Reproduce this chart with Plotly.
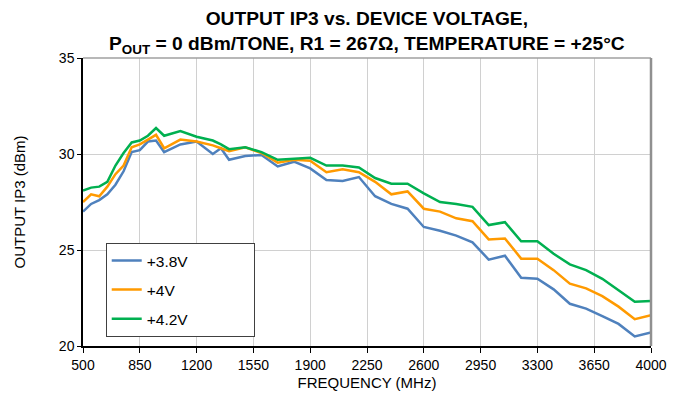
import plotly.graph_objects as go

freq = [500, 550, 600, 650, 700, 750, 800, 850, 900, 950, 1000,
        1100, 1200, 1300, 1350, 1400, 1500, 1600, 1700, 1800, 1900, 2000,
        2100, 2200, 2300, 2400, 2500, 2600, 2700, 2800, 2900, 3000,
        3100, 3200, 3300, 3400, 3500, 3600, 3700, 3800, 3900, 4000]

ip3_38v = [27.0, 27.4, 27.6, 27.9, 28.4, 29.1, 30.1, 30.2, 30.65, 30.7, 30.1,
           30.5, 30.65, 30.0, 30.3, 29.7, 29.9, 29.95, 29.35, 29.6, 29.25, 28.65,
           28.6, 28.8, 27.8, 27.4, 27.15, 26.2, 26.0, 25.75, 25.4, 24.5,
           24.7, 23.55, 23.5, 22.95, 22.2, 21.95, 21.55, 21.15, 20.5, 20.7]

ip3_4v = [27.5, 27.9, 27.8, 28.3, 28.95, 29.4, 30.35, 30.5, 30.75, 31.0, 30.3,
          30.75, 30.65, 30.45, 30.3, 30.15, 30.35, 30.05, 29.55, 29.7, 29.65, 29.05,
          29.2, 29.05, 28.55, 27.9, 28.05, 27.15, 27.0, 26.65, 26.5, 25.55,
          25.6, 24.55, 24.55, 23.95, 23.25, 23.0, 22.6, 22.05, 21.4, 21.6]

ip3_42v = [28.1, 28.25, 28.3, 28.55, 29.4, 30.05, 30.6, 30.7, 30.95, 31.35, 30.95,
           31.2, 30.9, 30.7, 30.5, 30.25, 30.35, 30.1, 29.7, 29.75, 29.8, 29.4,
           29.4, 29.3, 28.75, 28.45, 28.45, 27.95, 27.5, 27.4, 27.25, 26.3,
           26.45, 25.45, 25.45, 24.8, 24.25, 23.95, 23.5, 22.9, 22.3, 22.35]

names = ["+3.8V", "+4V", "+4.2V"]
colors = ["#4f81bd", "#ff9a00", "#00b050"]
x_ticks = [500, 850, 1200, 1550, 1900, 2250, 2600, 2950, 3300, 3650, 4000]
y_ticks = [20, 25, 30, 35]

font = "Arial, Liberation Sans, sans-serif"
title_text = ("<b>OUTPUT IP3 vs. DEVICE VOLTAGE,<br>"
              "P<sub>OUT</sub> = 0 dBm/TONE, R1 = 267Ω, TEMPERATURE = +25°C</b>")

fig = go.Figure()
for i, (ys, nm, c) in enumerate(zip([ip3_38v, ip3_4v, ip3_42v], names, colors)):
    fig.add_trace(go.Scatter(x=freq, y=ys, mode="lines", name=nm + "&nbsp;" * 14,
                             legendgroup=str(i),
                             line=dict(color=c, width=2.5)))

# page body has an 8px margin, so the figure is a bit smaller than the window
fig.update_layout(
    width=666, height=387,
    margin=dict(l=75, r=23, t=50, b=49),
    paper_bgcolor="white", plot_bgcolor="white",
    font=dict(family=font, size=14, color="#000000"),
    legend=dict(x=0.04, y=0.358, xanchor="left", yanchor="top",
                bgcolor="white", bordercolor="#404040", borderwidth=1,
                font=dict(size=15.5), tracegroupgap=6),
    xaxis=dict(range=[500, 4000], tickvals=x_ticks, automargin=False,
               showgrid=True, gridcolor="#d0d0d0", gridwidth=1,
               showline=True, linecolor="#000000", linewidth=1.5,
               ticks="outside", ticklen=5, tickcolor="#000000",
               title=dict(text="FREQUENCY (MHz)", standoff=6, font=dict(size=15)),
               zeroline=False),
    yaxis=dict(range=[20, 35], tickvals=y_ticks, automargin=False,
               showgrid=True, gridcolor="#d0d0d0", gridwidth=1,
               showline=True, linecolor="#000000", linewidth=1.5,
               ticks="outside", ticklen=4, tickcolor="#000000",
               title=dict(text="OUTPUT IP3 (dBm)", standoff=30, font=dict(size=15)),
               zeroline=False),
)

fig.add_annotation(text=title_text, xref="paper", yref="paper", x=0.5, y=1,
                   xanchor="center", yanchor="bottom", yshift=-1, showarrow=False,
                   font=dict(family=font, size=19.2, color="#000000"))

# gray frame on top and right of the plot area
fig.add_shape(type="line", xref="paper", yref="paper", x0=0, x1=1, y0=1, y1=1,
              line=dict(color="#a0a0a0", width=1.5))
fig.add_shape(type="line", xref="paper", yref="paper", x0=1, x1=1, y0=0, y1=1,
              line=dict(color="#909090", width=2.5))

fig.write_html("out.html")
